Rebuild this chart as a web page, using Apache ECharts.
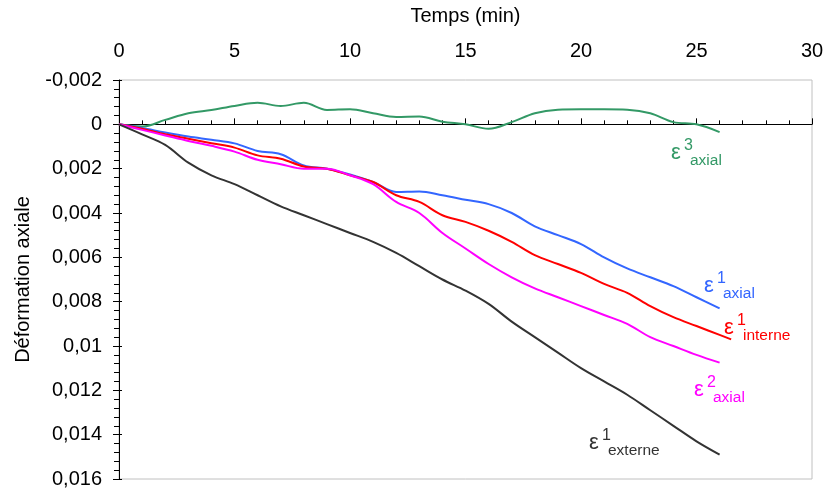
<!DOCTYPE html>
<html>
<head>
<meta charset="utf-8">
<script src="https://cdn.jsdelivr.net/npm/echarts@6/dist/echarts.min.js"></script>
<style>
html,body{margin:0;padding:0;background:#fff;}
#c{width:831px;height:497px;}
</style>
</head>
<body>
<div id="c"></div>
<script>
// ---- data (time in min, axial strain) ----
var times = [0,1,2,3,4,5,6,7,8,9,10,11,12,13,14,15,16,17,18,19,20,21,22,23,24,25,26];
var timesRed = [0,1,2,3,4,5,6,7,8,9,10,11,12,13,14,15,16,17,18,19,20,21,22,23,24,25,26,26.5];
var eps3Axial = [0,0.0001,-0.0002,-0.0005,-0.00065,-0.00083,-0.00097,-0.00083,-0.00097,-0.00065,-0.00068,-0.0005,-0.00033,-0.00035,-0.00012,0.0,0.0002,-0.0001,-0.0005,-0.00066,-0.00068,-0.00068,-0.00066,-0.0005,-0.0001,0.0,0.00035];
var eps1Axial = [0,0.00017,0.00037,0.00055,0.0007,0.00086,0.0012,0.00135,0.00185,0.002,0.00226,0.0026,0.00305,0.00303,0.0032,0.0034,0.0036,0.004,0.0046,0.005,0.0054,0.006,0.0065,0.0069,0.0073,0.0078,0.0083];
var eps1Interne = [0,0.0002,0.00045,0.00065,0.00085,0.00105,0.0014,0.00155,0.0019,0.002,0.0023,0.0026,0.0032,0.0035,0.0041,0.0044,0.0048,0.0053,0.0059,0.0063,0.0067,0.0072,0.0076,0.0082,0.0087,0.0091,0.0095,0.0097];
var eps2Axial = [0,0.00025,0.0005,0.00075,0.00097,0.00123,0.0016,0.0018,0.002,0.002,0.0023,0.0027,0.0035,0.004,0.0049,0.0056,0.0063,0.0069,0.0074,0.0078,0.0082,0.0086,0.009,0.0096,0.01,0.0104,0.01075];
var eps1Externe = [0,0.00045,0.00093,0.00173,0.0023,0.0027,0.0032,0.0037,0.0041,0.0045,0.0049,0.0053,0.0058,0.0064,0.007,0.0075,0.0081,0.0089,0.0096,0.0103,0.011,0.0116,0.0122,0.0129,0.0136,0.0143,0.0149];
var xTitle = 'Temps (min)';
var yTitle = 'Déformation axiale';
// series labels: [symbol, superscript, subscript]
var seriesLabels = [
  ['ε','3','axial'],
  ['ε','1','axial'],
  ['ε','1','interne'],
  ['ε','2','axial'],
  ['ε','1','externe']
];

function pairs(xs, ys){ return ys.map(function(v,i){ return [xs[i], v]; }); }

var FONT = 'Liberation Sans, Arial, sans-serif';
var colors = ['#339966','#3366ff','#ff0000','#ff00ff','#333333'];

function fmt(v){
  var s = String(Number(v.toPrecision(6)));
  return s.replace('.', ',');
}

// label annotations (pixel placement of text annotations)
var labelPos = [
  {x:671, b:160, color:colors[0]},
  {x:704, b:293, color:colors[1]},
  {x:724, b:335, color:colors[2]},
  {x:694, b:397, color:colors[3]},
  {x:589, b:450, color:colors[4]}
];
var graphics = [];
labelPos.forEach(function(p, i){
  var L = seriesLabels[i];
  graphics.push({type:'text', x:p.x, y:p.b - 7, silent:true,
    style:{text:L[0], fontSize:22, fontFamily:FONT, fill:p.color, verticalAlign:'middle', align:'left'}});
  graphics.push({type:'text', x:p.x + 13, y:p.b - 14, silent:true,
    style:{text:L[1], fontSize:16, fontFamily:FONT, fill:p.color, verticalAlign:'middle', align:'left'}});
  graphics.push({type:'text', x:p.x + 19, y:p.b + 1, silent:true,
    style:{text:L[2], fontSize:15.5, fontFamily:FONT, fill:p.color, verticalAlign:'middle', align:'left'}});
});

function line(name, data, color){
  return {name:name, type:'line', data:data, smooth:0.35, symbol:'none',
    lineStyle:{color:color, width:2}, itemStyle:{color:color}, z:3};
}

var chart = echarts.init(document.getElementById('c'));
chart.setOption({
  animation:false,
  backgroundColor:'#ffffff',
  grid:{left:119, right:19, top:80, bottom:18, outerBoundsMode:'none', containLabel:false,
        show:true, borderColor:'#c0c0c0', borderWidth:1, backgroundColor:'transparent'},
  xAxis:{
    type:'value', position:'top', min:0, max:30, interval:5,
    name:xTitle, nameLocation:'middle', nameGap:54,
    nameTextStyle:{fontSize:20, fontFamily:FONT, color:'#000'},
    axisLine:{show:true, lineStyle:{color:'#000', width:1}},
    axisTick:{show:true, inside:false, length:6, lineStyle:{color:'#000'}},
    minorTick:{show:true, splitNumber:5, length:4, lineStyle:{color:'#000'}},
    axisLabel:{fontSize:20, fontFamily:FONT, color:'#000', margin:19},
    splitLine:{show:false}
  },
  yAxis:[{
    type:'value', inverse:true, min:-0.002, max:0.016, interval:0.002,
    name:yTitle, nameLocation:'middle', nameGap:86,
    nameTextStyle:{fontSize:20, fontFamily:FONT, color:'#000'},
    axisLine:{show:true, lineStyle:{color:'#000', width:1}},
    axisTick:{show:true, inside:false, length:6, lineStyle:{color:'#000'}},
    minorTick:{show:true, splitNumber:5, length:5, lineStyle:{color:'#000'}},
    axisLabel:{fontSize:20, fontFamily:FONT, color:'#000', margin:17, formatter:fmt},
    splitLine:{show:false}
  },{
    type:'value', inverse:true, min:-0.002, max:0.016, interval:0.002, position:'left',
    axisLine:{show:false},
    axisTick:{show:true, inside:true, length:3, lineStyle:{color:'#000'}},
    axisLabel:{show:false}, splitLine:{show:false}
  }],
  series:[
    line('eps3 axial', pairs(times, eps3Axial), colors[0]),
    line('eps1 axial', pairs(times, eps1Axial), colors[1]),
    line('eps1 interne', pairs(timesRed, eps1Interne), colors[2]),
    line('eps2 axial', pairs(times, eps2Axial), colors[3]),
    line('eps1 externe', pairs(times, eps1Externe), colors[4])
  ],
  graphic:graphics
});
</script>
</body>
</html>
